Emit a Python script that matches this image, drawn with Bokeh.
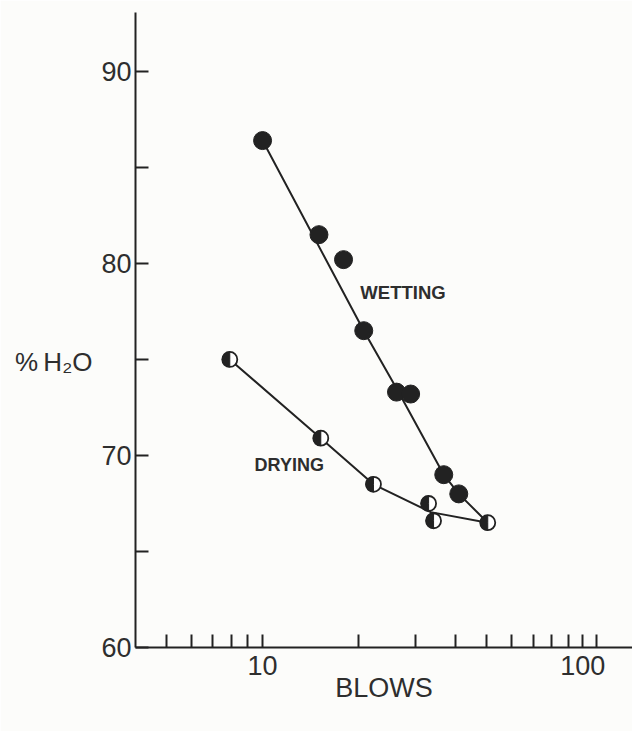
import numpy as np
from bokeh.plotting import figure
from bokeh.models import Range1d, FixedTicker, BasicTickFormatter
from bokeh.embed import file_html
from bokeh.resources import INLINE
from bokeh.core.properties import value

# ---- data ----
wetting_blows = [10.0, 15.0, 17.9, 20.7, 26.2, 29.0, 36.8, 41.0]
wetting_h2o = [86.4, 81.5, 80.2, 76.5, 73.3, 73.2, 69.0, 68.0]
drying_blows = [7.9, 15.2, 22.2, 33.0, 34.2, 50.5]
drying_h2o = [75.0, 70.9, 68.5, 67.5, 66.6, 66.5]
# hand-fitted curves through the points
wetting_curve_blows = [10.0, 20.7, 26.4, 36.8, 41.0, 50.5]
wetting_curve_h2o = [86.4, 76.5, 73.4, 69.0, 68.0, 66.5]
drying_curve_blows = [7.9, 15.2, 22.2, 33.5, 50.5]
drying_curve_h2o = [75.0, 70.9, 68.5, 67.05, 66.5]
# ticks
x_major = [10, 100]
x_minor = [5, 6, 7, 8, 9, 20, 30, 40, 50, 60, 70, 80, 90, 110]
y_major = [60, 70, 80, 90]
y_minor = [65, 75, 85]

BG = "#fcfcfa"
INK = "#222222"
TXT = "#2e2e2e"
FONT = "Liberation Sans"

W, H = 632, 731
FL, FT, FB = 135, 12, 647   # frame left / top / bottom on the page
X0, X1 = 4.01, 143.0
Y0, Y1 = 60, 93.07

p = figure(width=W, height=H, x_axis_type="log",
           x_range=Range1d(X0, X1), y_range=Range1d(Y0, Y1),
           output_backend="svg", toolbar_location=None,
           min_border_left=FL, min_border_right=0,
           min_border_top=FT, min_border_bottom=H - FB)
p.background_fill_color = BG
p.border_fill_color = BG
p.outline_line_color = None
p.xgrid.visible = False
p.ygrid.visible = False

for ax in (p.xaxis[0], p.yaxis[0]):
    ax.axis_line_color = INK
    ax.axis_line_width = 2
    ax.major_tick_line_color = INK
    ax.minor_tick_line_color = INK
    ax.major_tick_line_width = 2
    ax.minor_tick_line_width = 2
    ax.major_tick_in = 13
    ax.major_tick_out = 0
    ax.minor_tick_in = 13
    ax.minor_tick_out = 0
    ax.major_label_text_font = FONT
    ax.major_label_text_font_size = "27px"
    ax.major_label_text_color = TXT
    ax.axis_label_text_font = FONT
    ax.axis_label_text_font_style = "normal"
    ax.axis_label_text_color = TXT

p.xaxis.ticker = FixedTicker(ticks=x_major, minor_ticks=x_minor)
p.xaxis.formatter = BasicTickFormatter(use_scientific=False)
p.xaxis.major_label_standoff = 8
p.xaxis.axis_label = "BLOWS"
p.xaxis.axis_label_text_font_size = "27px"
p.xaxis.axis_label_standoff = -5

p.yaxis.ticker = FixedTicker(ticks=y_major + y_minor, minor_ticks=[])
p.yaxis.major_label_overrides = {v: "" for v in y_minor}
p.yaxis.major_label_standoff = 4
p.yaxis.axis_label = "\n\n%\u2009H\u2082O"
p.yaxis.axis_label_orientation = "horizontal"
p.yaxis.axis_label_text_font_size = "26px"
p.yaxis.axis_label_text_line_height = 1.05
p.yaxis.axis_label_standoff = 6

# curves
p.line(wetting_curve_blows, wetting_curve_h2o, line_color=INK, line_width=2)
p.line(drying_curve_blows, drying_curve_h2o, line_color=INK, line_width=2)

# wetting: filled dots
p.scatter(wetting_blows, wetting_h2o, marker="circle", size=18,
          fill_color=INK, line_color=INK)

# drying: half-filled dots
p.scatter(drying_blows, drying_h2o, marker="circle", size=15,
          fill_color="white", line_color=INK, line_width=1.8)
p.wedge(drying_blows, drying_h2o, radius=7.5, radius_units="screen",
        start_angle=np.pi / 2, end_angle=3 * np.pi / 2,
        fill_color=INK, line_color=INK)

# curve labels
p.text([20.2], [78.5], text=["WETTING"], text_font=value(FONT),
       text_font_style="bold", text_font_size="18.5px", text_color=TXT,
       text_align="left", text_baseline="middle")
p.text([9.44], [69.5], text=["DRYING"], text_font=value(FONT),
       text_font_style="bold", text_font_size="18px", text_color=TXT,
       text_align="left", text_baseline="middle")

open("out.html", "w").write(file_html(p, INLINE))
